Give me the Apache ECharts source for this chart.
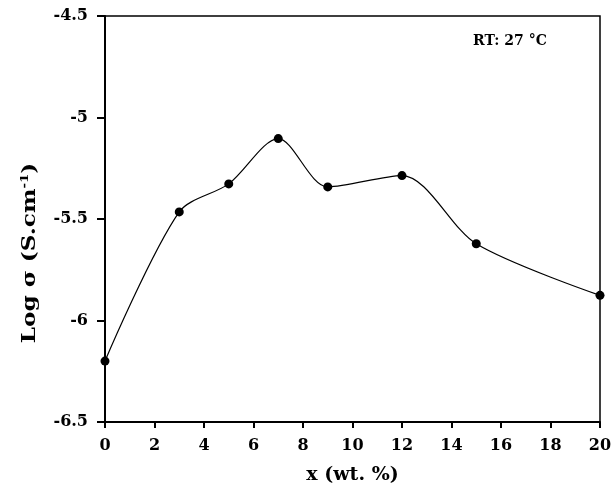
<!DOCTYPE html>
<html>
<head>
<meta charset="utf-8">
<script src="https://cdn.jsdelivr.net/npm/echarts@6/dist/echarts.min.js"></script>
<style>
	html, body { margin: 0; padding: 0; background: #fff; }
	#main { width: 615px; height: 490px; }
</style>
</head>
<body>
<div id="main"></div>
<script>
// data
var xValues = [0, 3, 5, 7, 9, 12, 15, 20];
var logSigma = [-6.2, -5.465, -5.327, -5.104, -5.342, -5.286, -5.622, -5.876];
var xTicks = [0, 2, 4, 6, 8, 10, 12, 14, 16, 18, 20];
var yTicks = [-6.5, -6, -5.5, -5, -4.5];

var points = [];
for (var i = 0; i < xValues.length; i++) {
	points.push([xValues[i], logSigma[i]]);
}

var font = '"DejaVu Serif", "Liberation Serif", serif';

var myChart = echarts.init(document.getElementById('main'));
myChart.setOption({
	animation: false,
	backgroundColor: '#fff',
	grid: {
		left: 105, right: 15, top: 16, bottom: 67,
		show: true, borderColor: '#000', borderWidth: 1.5
	},
	xAxis: {
		type: 'value',
		min: xTicks[0], max: xTicks[xTicks.length - 1], interval: 2,
		axisLine: { lineStyle: { color: '#000', width: 2 } },
		axisTick: { show: true, length: 6, lineStyle: { color: '#000', width: 2 } },
		axisLabel: { color: '#000', fontFamily: font, fontWeight: 'bold', fontSize: 16, margin: 16 },
		splitLine: { show: false },
		name: 'x (wt. %)',
		nameLocation: 'middle',
		nameGap: 44,
		nameTextStyle: { color: '#000', fontFamily: font, fontWeight: 'bold', fontSize: 19 }
	},
	yAxis: {
		type: 'value',
		min: yTicks[0], max: yTicks[yTicks.length - 1], interval: 0.5,
		axisLine: { lineStyle: { color: '#000', width: 2 } },
		axisTick: { show: true, length: 8, lineStyle: { color: '#000', width: 2 } },
		axisLabel: { color: '#000', fontFamily: font, fontWeight: 'bold', fontSize: 16, margin: 17 },
		splitLine: { show: false }
	},
	graphic: [
		{
			type: 'text',
			x: 30, y: 253,
			rotation: Math.PI / 2,
			scaleX: 1.22,
			style: {
				text: 'Log σ (S.cm{sup|-1})',
				rich: {
					sup: { fontSize: 11, fontWeight: 'bold', fontFamily: font, verticalAlign: 'top', padding: [0, 0, 9, 0] }
				},
				font: 'bold 19px ' + font,
				fill: '#000',
				align: 'center',
				verticalAlign: 'middle'
			}
		},
		{
			type: 'text',
			left: 473, top: 34,
			style: {
				text: 'RT: 27 °C',
				font: 'bold 14px ' + font,
				fill: '#000'
			}
		}
	],
	series: [{
		type: 'line',
		data: points,
		smooth: 0.3,
		symbol: 'circle',
		symbolSize: 9,
		itemStyle: { color: '#000' },
		lineStyle: { color: '#000', width: 1.2 }
	}]
});
</script>
</body>
</html>
